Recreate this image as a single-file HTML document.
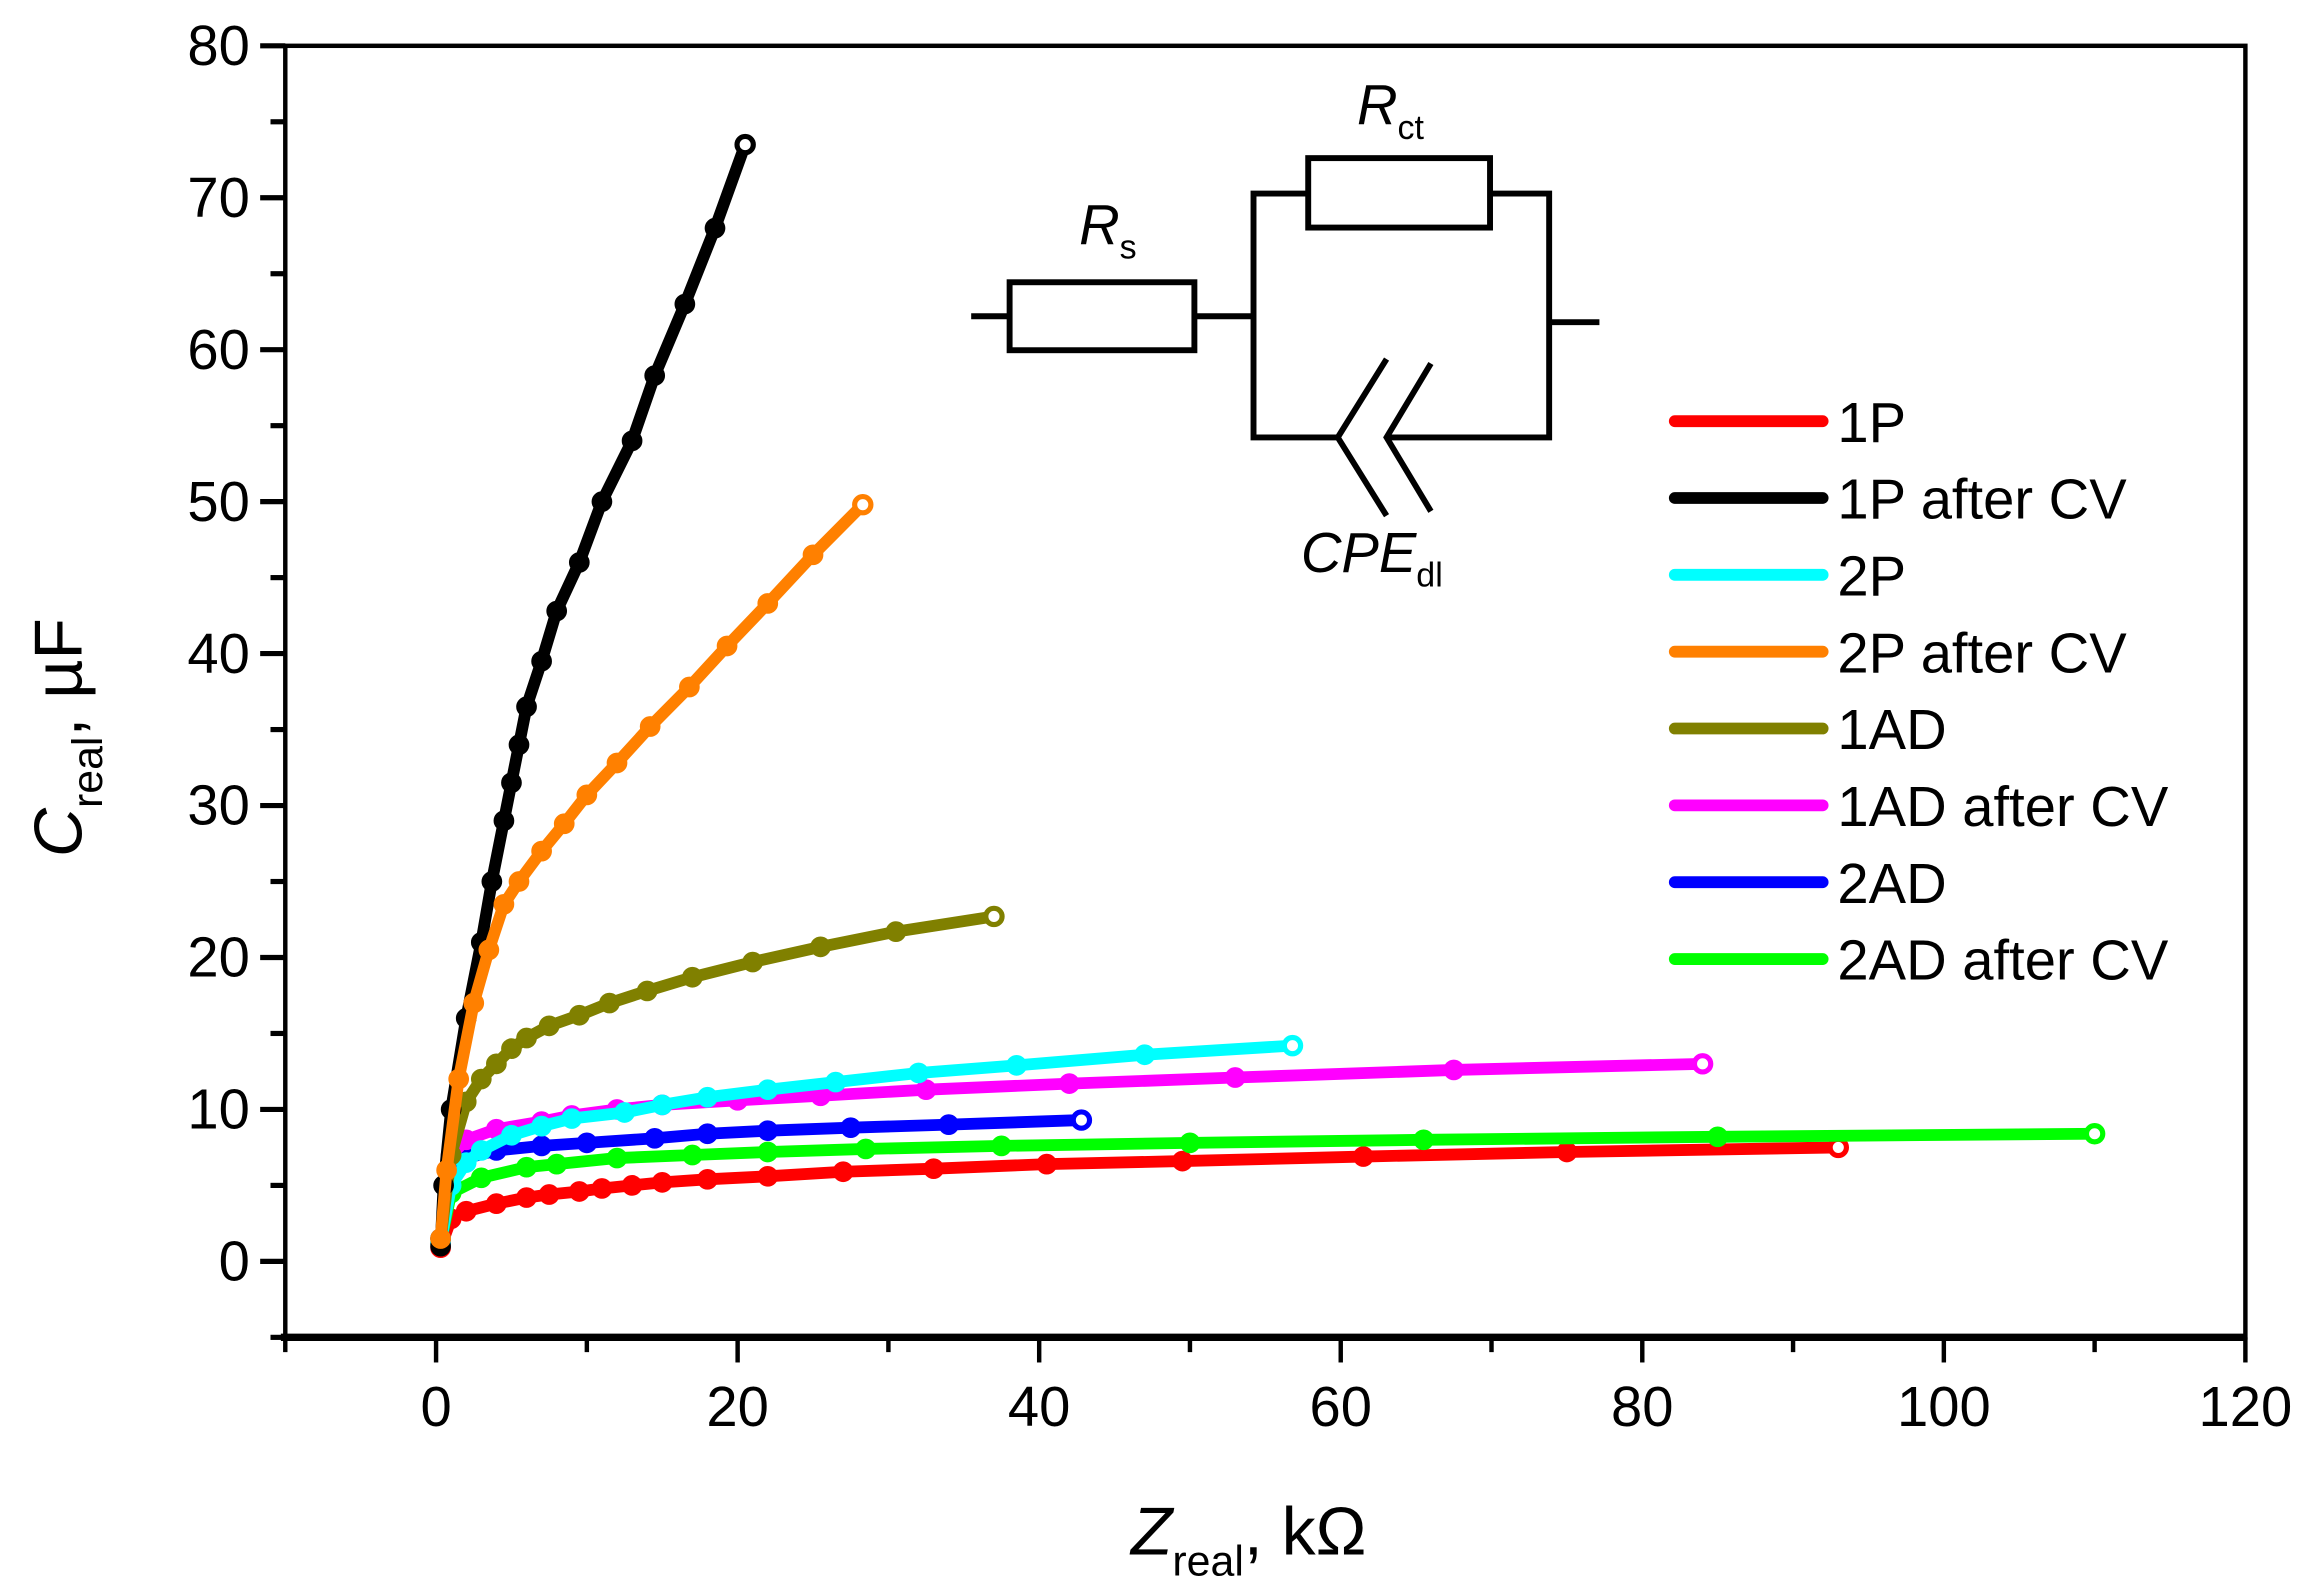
<!DOCTYPE html>
<html><head><meta charset="utf-8"><style>
html,body{margin:0;padding:0;background:#fff;}
svg{display:block;}
text{font-family:"Liberation Sans",Arial,sans-serif;}
</style></head><body>
<svg id="chart" width="2306" height="1593" viewBox="0 0 1560 1078" preserveAspectRatio="none" xmlns="http://www.w3.org/2000/svg">
<g id="axes"></g>
<g id="series"></g>
<g id="circuit" stroke="#000" stroke-width="4" fill="none">
  <line x1="657" y1="214" x2="683" y2="214"/>
  <rect x="683" y="191" width="125" height="46"/>
  <line x1="808" y1="214" x2="848" y2="214"/>
  <polyline points="885,131 848,131 848,296 905,296"/>
  <rect x="885" y="107" width="123" height="47"/>
  <polyline points="1008,131 1048,131 1048,296 938,296"/>
  <line x1="1048" y1="218" x2="1082" y2="218"/>
  <polyline points="938,243 905,296 938,349"/>
  <polyline points="968,246 938,296 968,346"/>
</g>
<text x="730" y="165" font-size="38" font-style="italic">R<tspan font-size="23" font-style="normal" dy="10">s</tspan></text>
<text x="918" y="84" font-size="38" font-style="italic">R<tspan font-size="23" font-style="normal" dy="10">ct</tspan></text>
<text x="880" y="387" font-size="38" font-style="italic">CPE<tspan font-size="23" font-style="normal" dy="10">dl</tspan></text>
<g id="legend"></g>
<text x="765" y="1052" font-size="46"><tspan font-style="italic">Z</tspan><tspan font-size="29" dy="14">real</tspan><tspan dy="-14">, kΩ</tspan></text>
<text transform="translate(55,580) rotate(-90)" font-size="46"><tspan font-style="italic">C</tspan><tspan font-size="29" dy="14">real</tspan><tspan dy="-14">, µF</tspan></text>
</svg>
<script>
const xTicks=[0,20,40,60,80,100,120];
const yTicks=[0,10,20,30,40,50,60,70,80];
const seriesNames=["1P","1P after CV","2P","2P after CV","1AD","1AD after CV","2AD","2AD after CV"];
const seriesColors=["#ff0000","#000000","#00ffff","#ff8000","#808000","#ff00ff","#0000ff","#00ff00"];
const x1P=[0.3,1,2,4,6,7.5,9.5,11,13,15,18,22,27,33,40.5,49.5,61.5,75,93];
const y1P=[0.9,2.8,3.3,3.8,4.2,4.4,4.6,4.8,5,5.2,5.4,5.6,5.9,6.1,6.4,6.6,6.9,7.2,7.5];
const x1PCV=[0.3,0.5,1,2,3,3.7,4.5,5,5.5,6,7,8,9.5,11,13,14.5,16.5,18.5,20.5];
const y1PCV=[1,5,10,16,21,25,29,31.5,34,36.5,39.5,42.8,46,50,54,58.3,63,68,73.5];
const x2P=[0.3,1,2,3,5,7,9,12.5,15,18,22,26.5,32,38.5,47,56.8];
const y2P=[1.2,5,6.5,7.3,8.3,8.9,9.4,9.8,10.3,10.8,11.3,11.8,12.4,12.9,13.6,14.2];
const x2PCV=[0.3,0.7,1.5,2.5,3.5,4.5,5.5,7,8.5,10,12,14.2,16.8,19.3,22,25,28.3];
const y2PCV=[1.5,6,12,17,20.5,23.5,25,27,28.8,30.7,32.8,35.2,37.8,40.5,43.3,46.5,49.8];
const x1AD=[0.3,1,2,3,4,5,6,7.5,9.5,11.5,14,17,21,25.5,30.5,37];
const y1AD=[1.5,7,10.5,12,13,14,14.7,15.5,16.2,17,17.8,18.7,19.7,20.7,21.7,22.7];
const x1ADCV=[0.3,1,2,4,7,9,12,15,20,25.5,32.5,42,53,67.5,84];
const y1ADCV=[1.2,7,8,8.7,9.2,9.6,10,10.3,10.6,10.9,11.3,11.7,12.1,12.6,13];
const x2AD=[0.3,1,2,4,7,10,14.5,18,22,27.5,34,42.8];
const y2AD=[1.5,6,6.8,7.3,7.6,7.8,8.1,8.4,8.6,8.8,9,9.3];
const x2ADCV=[0.3,1,3,6,8,12,17,22,28.5,37.5,50,65.5,85,110];
const y2ADCV=[1.2,4.5,5.5,6.2,6.4,6.8,7,7.2,7.4,7.6,7.8,8,8.2,8.4];
const seriesX=[x1P,x1PCV,x2P,x2PCV,x1AD,x1ADCV,x2AD,x2ADCV];
const seriesY=[y1P,y1PCV,y2P,y2PCV,y1AD,y1ADCV,y2AD,y2ADCV];
const drawOrder=[0,7,6,5,2,4,1,3];

const NS="http://www.w3.org/2000/svg";
const L=193,R=1519,T=31,B=905;
const xMin=-10,xMax=120,yMin=-5,yMax=80;
const sx=v=>L+(v-xMin)/(xMax-xMin)*(R-L);
const sy=v=>B-(v-yMin)/(yMax-yMin)*(B-T);
function mk(tag,attrs,parent){const e=document.createElementNS(NS,tag);for(const k in attrs)e.setAttribute(k,attrs[k]);parent.appendChild(e);return e;}

const axes=document.getElementById('axes');
const frame=mk('rect',{x:L,y:T,width:R-L,height:B-T,fill:'none',stroke:'#000','stroke-width':3},axes);


const xAxisLine=mk('line',{x1:L-3,y1:B,x2:R,y2:B,stroke:'#000','stroke-width':5},axes);


for(let v=-10;v<=120;v+=10){
  const major=v%20===0;
  const t=mk('line',{x1:sx(v),y1:B,x2:sx(v),y2:B+(major?17:10),stroke:'#000','stroke-width':3},axes);
  
  
}
xTicks.forEach(v=>{
  const t=mk('text',{x:sx(v),y:B+60,'font-size':38,'text-anchor':'middle'},axes);
  t.textContent=v;
  
  
});
for(let v=-5;v<=80;v+=5){
  const major=v%10===0;
  const t=mk('line',{x1:L,y1:sy(v),x2:L-(major?17:10),y2:sy(v),stroke:'#000','stroke-width':3.5},axes);
  
  
}
yTicks.forEach(v=>{
  const t=mk('text',{x:L-24,y:sy(v)+13,'font-size':38,'text-anchor':'end'},axes);
  t.textContent=v;
  
  
});

const sg=document.getElementById('series');
drawOrder.forEach(i=>{
  const g=mk('g',{},sg);
  
  
  const xs=seriesX[i],ys=seriesY[i],c=seriesColors[i];
  const pts=xs.map((x,j)=>sx(x)+','+sy(ys[j])).join(' ');
  const pl=mk('polyline',{points:pts,fill:'none',stroke:c,'stroke-width':8,'stroke-linejoin':'round','stroke-linecap':'round'},g);
  
  
  xs.forEach((x,j)=>{
    const last=j===xs.length-1;
    const ci=mk('circle',{cx:sx(x),cy:sy(ys[j]),r:last?5.5:6.5,fill:last?'#fff':c,stroke:c,'stroke-width':last?3.5:1},g);
    
    
  });
});

const lg=document.getElementById('legend');
seriesNames.forEach((n,i)=>{
  const y=285+i*52;
  const ln=mk('line',{x1:1133,y1:y,x2:1233,y2:y,stroke:seriesColors[i],'stroke-width':8,'stroke-linecap':'round'},lg);
  
  
  const t=mk('text',{x:1243,y:y+14,'font-size':38},lg);
  t.textContent=n;
  
  
});
</script>
</body></html>
